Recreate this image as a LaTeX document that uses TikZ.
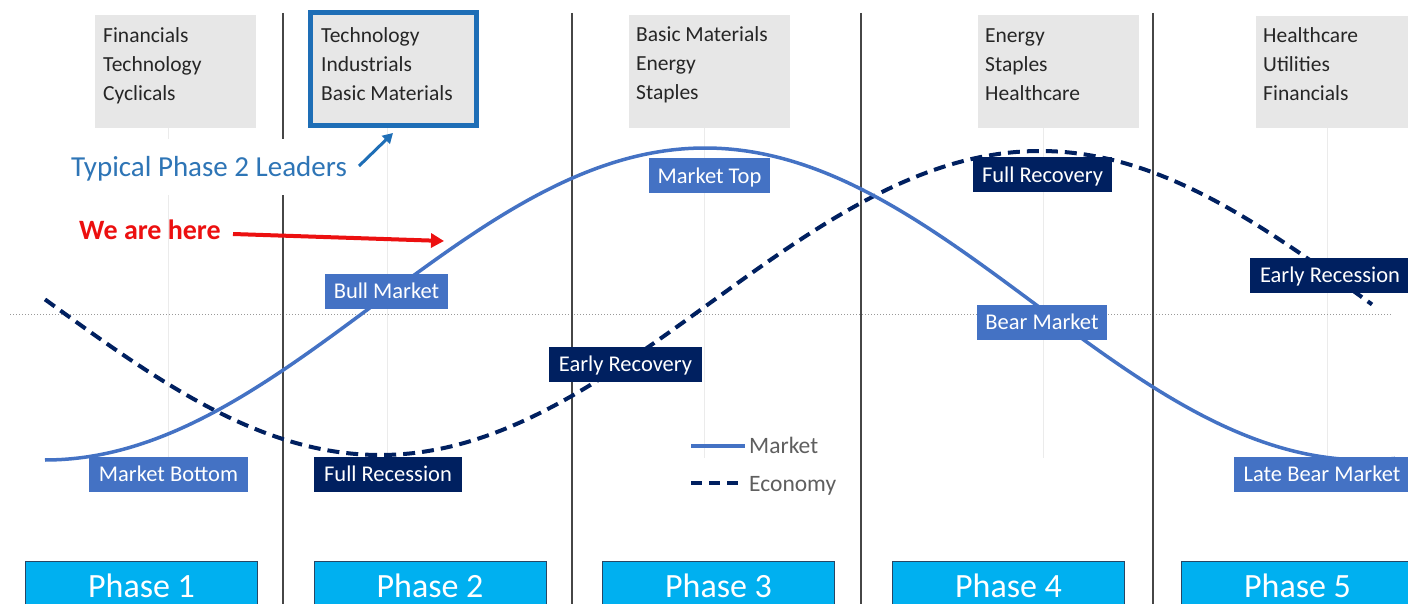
\documentclass[tikz,border=0pt]{standalone}
\usepackage{fontspec}
\setmainfont{Carlito}
\usetikzlibrary{arrows.meta}
\definecolor{mkt}{RGB}{68,114,196}
\definecolor{eco}{RGB}{0,32,96}
\definecolor{boxgray}{RGB}{231,231,231}
\definecolor{leadblue}{RGB}{30,110,182}
\definecolor{leadtext}{RGB}{46,117,182}
\definecolor{herered}{RGB}{236,16,16}
\definecolor{phasefill}{RGB}{0,176,240}
\definecolor{phaseedge}{RGB}{40,70,100}
\definecolor{legtxt}{RGB}{95,95,95}
\definecolor{divline}{RGB}{70,70,70}
\begin{document}
\begin{tikzpicture}[x=1pt,y=-1pt,
  gbox/.style={fill=boxgray, draw=none, inner sep=0pt, anchor=north west},
  gtext/.style={anchor=north west, align=left, inner sep=0pt, text=black!85,
     font=\fontsize{21.5}{29.2}\selectfont},
  lab/.style={inner sep=0pt, text=white, font=\fontsize{22.5}{24}\selectfont,
     text height=14.5pt, text depth=0pt, minimum height=35pt},
  mlab/.style={lab, fill=mkt},
  elab/.style={lab, fill=eco},
  phasebox/.style={fill=phasefill, draw=phaseedge, line width=0.8pt, inner sep=0pt,
     minimum height=50pt, minimum width=232pt, text=white,
     font=\fontsize{34}{36}\selectfont, text height=22pt, text depth=0pt},
  divider/.style={draw=divline, line width=1.4pt},
  faint/.style={draw=black!8, line width=0.8pt},
  mktline/.style={draw=mkt, line width=3.5pt},
  ecoline/.style={draw=eco, line width=4pt, dash pattern=on 12pt off 7pt},
  legtext/.style={anchor=west, inner sep=0pt, text=legtxt,
     font=\fontsize{23.5}{25}\selectfont, text height=15pt, text depth=0pt}
]
\useasboundingbox (0,0) rectangle (1408,604);
\fill[white] (0,0) rectangle (1408,604);

% faint gridlines
\foreach \gx/\gn in {168/ga,387/gb,704/gc,1043/gd,1327/ge}{
  \coordinate (\gn1) at (\gx,128);
  \coordinate (\gn2) at (\gx,458);
  \draw[faint] (\gn1) -- (\gn2);
}
% dotted midline
\coordinate (mid1) at (10,314);
\coordinate (mid2) at (1392,314);
\draw[black!40, line width=1pt, dash pattern=on 1.2pt off 1.8pt] (mid1) -- (mid2);

% phase dividers
\foreach \dx/\dn in {283/da,572/db,861/dc,1153/dd}{
  \coordinate (\dn1) at (\dx,13);
  \coordinate (\dn2) at (\dx,604);
  \draw[divider] (\dn1) -- (\dn2);
}

% top sector boxes
\node[gbox, minimum width=161pt, minimum height=113pt] (g1) at (95,15) {};
\node[fill=boxgray, draw=leadblue, line width=5pt, inner sep=0pt,
      minimum width=166pt, minimum height=113pt] (g2) at (393.5,69) {};
\node[gbox, minimum width=161pt, minimum height=113pt] (g3) at (629,15) {};
\node[gbox, minimum width=161pt, minimum height=113pt] (g4) at (978,15) {};
\node[gbox, minimum width=170pt, minimum height=112pt] (g5) at (1256,16) {};

\node[gtext] (t1) at (103,25) {\rule{0pt}{17pt}Financials\\Technology\\Cyclicals};
\node[gtext] (t2) at (321,25) {\rule{0pt}{17pt}Technology\\Industrials\\Basic Materials};
\node[gtext] (t3) at (636,24) {\rule{0pt}{17pt}Basic Materials\\Energy\\Staples};
\node[gtext] (t4) at (985,25) {\rule{0pt}{17pt}Energy\\Staples\\Healthcare};
\node[gtext] (t5) at (1263,25) {\rule{0pt}{17pt}Healthcare\\Utilities\\Financials};

% curves
\draw[ecoline] plot[domain=45:1372, samples=160, smooth]
   (\x, {303-152*cos(0.2727273*(\x-1040))});
\draw[mktline] plot[domain=45:1395, samples=160, smooth]
   (\x, {304+156*cos(0.2727273*(\x-45))});

% curve labels
\node[mlab, minimum width=159pt] (mb) at (168.5,474.5) {Market Bottom};
\node[mlab, minimum width=123pt] (bm) at (386.5,291) {Bull Market};
\node[mlab, minimum width=121pt] (mt) at (709.5,176) {Market Top};
\node[mlab, minimum width=130pt] (brm) at (1042,322.5) {Bear Market};
\node[mlab, minimum width=176pt] (lbm) at (1322,474.5) {Late Bear Market};

\node[elab, minimum width=148pt] (fr) at (388,474.5) {Full Recession};
\node[elab, minimum width=153pt] (er) at (625.5,364) {Early Recovery};
\node[elab, minimum width=139pt] (frc) at (1042.5,175) {Full Recovery};
\node[elab, minimum width=160pt] (ers) at (1330,275) {Early Recession};

% annotations
\node[fill=white, inner sep=0pt, minimum height=56pt, text=leadtext,
      font=\fontsize{29}{30}\selectfont, text height=18.7pt, text depth=0pt]
      (lead) at (209,167.5) {Typical Phase 2 Leaders};
\coordinate (leadTail) at (359,166);
\coordinate (leadHead) at (393,133);
\draw[leadblue, line width=3pt, -{Triangle[length=10pt,width=11pt]}] (leadTail) -- (leadHead);

\node[anchor=base, inner sep=0pt, text=herered, font=\bfseries\fontsize{28}{30}\selectfont]
      (here) at (150,240) {We are here};
\coordinate (hereTail) at (233,234);
\coordinate (hereHead) at (444,241);
\draw[herered, line width=4pt, -{Triangle[length=13pt,width=14pt]}] (hereTail) -- (hereHead);

% legend
\coordinate (lm1) at (691,446);
\coordinate (lm2) at (745,446);
\draw[mkt, line width=3.5pt] (lm1) -- (lm2);
\node[legtext] (lmt) at (749,446) {Market};
\coordinate (le1) at (691,483);
\coordinate (le2) at (740,483);
\draw[eco, line width=4pt, dash pattern=on 11pt off 7pt] (le1) -- (le2);
\node[legtext] (let) at (749,483.5) {Economy};

% phase boxes
\node[phasebox] (p1) at (141.5,586) {Phase 1};
\node[phasebox] (p2) at (430,586) {Phase 2};
\node[phasebox] (p3) at (718.5,586) {Phase 3};
\node[phasebox] (p4) at (1008.5,586) {Phase 4};
\node[phasebox] (p5) at (1297.5,586) {Phase 5};
\end{tikzpicture}
\end{document}
